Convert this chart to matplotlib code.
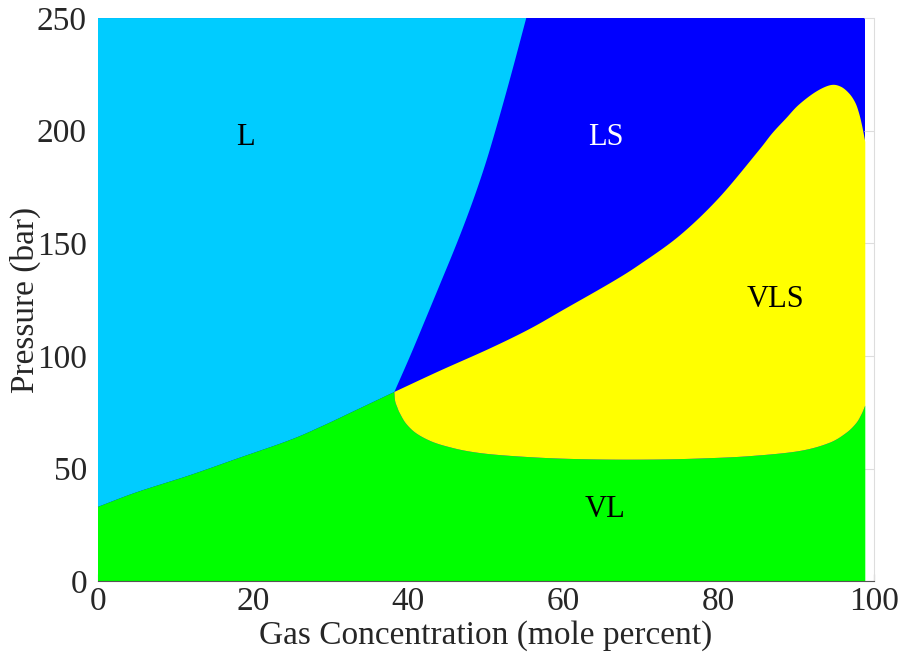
import numpy as np
import matplotlib
matplotlib.use("Agg")
import matplotlib.pyplot as plt

# ---- data ----
x_edge = 98.9          # right end of computed region (mole %)
p_max = 250            # top of the pressure axis

# L / VL boundary (liquid vs vapour-liquid), x in mole %, y in bar
lvl_x = [0.0, 5.0, 11.8, 18.0, 24.7, 29.0, 33.3, 38.2]
lvl_y = [33.0, 39.5, 47.0, 54.5, 62.6, 69.0, 76.0, 84.0]

# L / LS boundary
lls_x = [38.2, 40.3, 42.3, 44.2, 45.9, 47.3, 48.7, 50.1, 51.6, 53.3, 55.2]
lls_y = [84.0, 100.5, 117.0, 132.8, 147.0, 159.3, 172.5, 187.0, 204.5, 225.5, 250.0]

# LS / VLS boundary (upper edge of VLS)
vls_up_x = [38.2, 44.0, 50.5, 55.6, 59.9, 66.3, 70.0, 75.0, 80.0, 85.0, 86.9,
            88.7, 90.3, 92.5, 94.4, 95.7, 96.8, 97.6, 98.1, 98.5, 98.9]
vls_up_y = [84.0, 93.3, 103.3, 111.9, 120.3, 132.9, 141.0, 153.5, 170.0, 190.5, 198.8,
            205.5, 211.4, 217.2, 220.2, 219.6, 216.6, 212.5, 207.7, 202.0, 195.0]

# VLS / VL boundary (lower edge of VLS)
vls_lo_x = [38.2, 38.3, 38.6, 38.9, 39.7, 41.0, 43.0, 45.3, 48.0, 51.7, 58.2,
            65.0, 72.0, 78.0, 84.0, 90.3, 94.2, 96.4, 97.7, 98.4, 98.9]
vls_lo_y = [84.0, 80.0, 77.0, 74.6, 70.0, 65.7, 62.0, 59.5, 57.5, 56.0, 54.6,
            54.0, 54.0, 54.5, 55.5, 57.7, 61.3, 65.7, 70.0, 74.0, 78.0]

region_labels = ["L", "LS", "VLS", "VL"]
label_x = [19.0, 65.4, 87.3, 65.4]
label_y = [197.0, 197.0, 125.0, 32.0]
label_colors = ["black", "white", "black", "black"]

c_L = "#00CCFF"
c_LS = "#0000FF"
c_VLS = "#FFFF00"
c_VL = "#00FF00"


def smooth(xs, ys, n=12):
    """Catmull-Rom curve through the given points (drawing aid only)."""
    p = np.column_stack([xs, ys]).astype(float)
    p = np.vstack([2 * p[0] - p[1], p, 2 * p[-1] - p[-2]])
    out = []
    t = np.linspace(0, 1, n, endpoint=False)[:, None]
    for i in range(1, len(p) - 2):
        p0, p1, p2, p3 = p[i - 1], p[i], p[i + 1], p[i + 2]
        seg = 0.5 * ((2 * p1) + (-p0 + p2) * t + (2 * p0 - 5 * p1 + 4 * p2 - p3) * t ** 2
                     + (-p0 + 3 * p1 - 3 * p2 + p3) * t ** 3)
        out.append(seg)
    out.append(p[-2][None, :])
    out = np.vstack(out)
    return out[:, 0], out[:, 1]


sx_lvl, sy_lvl = smooth(lvl_x, lvl_y)
sx_lls, sy_lls = smooth(lls_x, lls_y)
sx_up, sy_up = smooth(vls_up_x, vls_up_y)
sx_lo, sy_lo = smooth(vls_lo_x, vls_lo_y)

# ---- figure ----
plt.rcParams['font.family'] = ['Liberation Serif', 'DejaVu Serif']
fig = plt.figure(figsize=(8.99, 6.68), dpi=100)
ax = fig.add_axes([0.109, 0.130, 0.863, 0.843])

# LS as background of computed area
ax.fill([0, x_edge, x_edge, 0], [0, 0, p_max, p_max], color=c_LS, lw=0, zorder=1)

# L region
Lx = np.concatenate([sx_lvl, sx_lls[1:], [0.0]])
Ly = np.concatenate([sy_lvl, sy_lls[1:], [p_max]])
ax.fill(Lx, Ly, color=c_L, lw=0, zorder=2)

# VL region
VLx = np.concatenate([[0.0], sx_lvl, sx_lo[1:], [x_edge]])
VLy = np.concatenate([[0.0], sy_lvl, sy_lo[1:], [0.0]])
ax.fill(VLx, VLy, color=c_VL, lw=0, zorder=2)

# VLS region
VSx = np.concatenate([sx_up, sx_lo[::-1]])
VSy = np.concatenate([sy_up, sy_lo[::-1]])
ax.fill(VSx, VSy, color=c_VLS, lw=0, zorder=2)

for t, x, y, c in zip(region_labels, label_x, label_y, label_colors):
    ax.text(x, y, t, color=c, fontsize=22, ha='center', va='center', zorder=5)

ax.set_xlim(0, 100)
ax.set_ylim(0, p_max)
ax.set_xticks([0, 20, 40, 60, 80, 100])
ax.set_yticks([0, 50, 100, 150, 200, 250])

ax.spines['left'].set_visible(False)
ax.spines['top'].set_visible(False)
ax.spines['bottom'].set_color('#555555')
ax.spines['right'].set_color('#dddddd')
ax.spines['bottom'].set_zorder(6)
ax.spines['right'].set_zorder(6)

ax.tick_params(axis='x', direction='in', length=5, color='#777777',
               labelsize=24, labelcolor='#262626', pad=4)
ax.tick_params(axis='y', direction='in', left=False, right=True, length=7,
               color='#dddddd', labelsize=24, labelcolor='#262626', pad=8)

ax.set_xlabel("Gas Concentration (mole percent)", fontsize=24, color='#262626', labelpad=2)
ax.set_ylabel("Pressure (bar)", fontsize=24, color='#262626')
ax.yaxis.set_label_coords(-0.074, 0.5)

fig.savefig("out.png", dpi=100)
